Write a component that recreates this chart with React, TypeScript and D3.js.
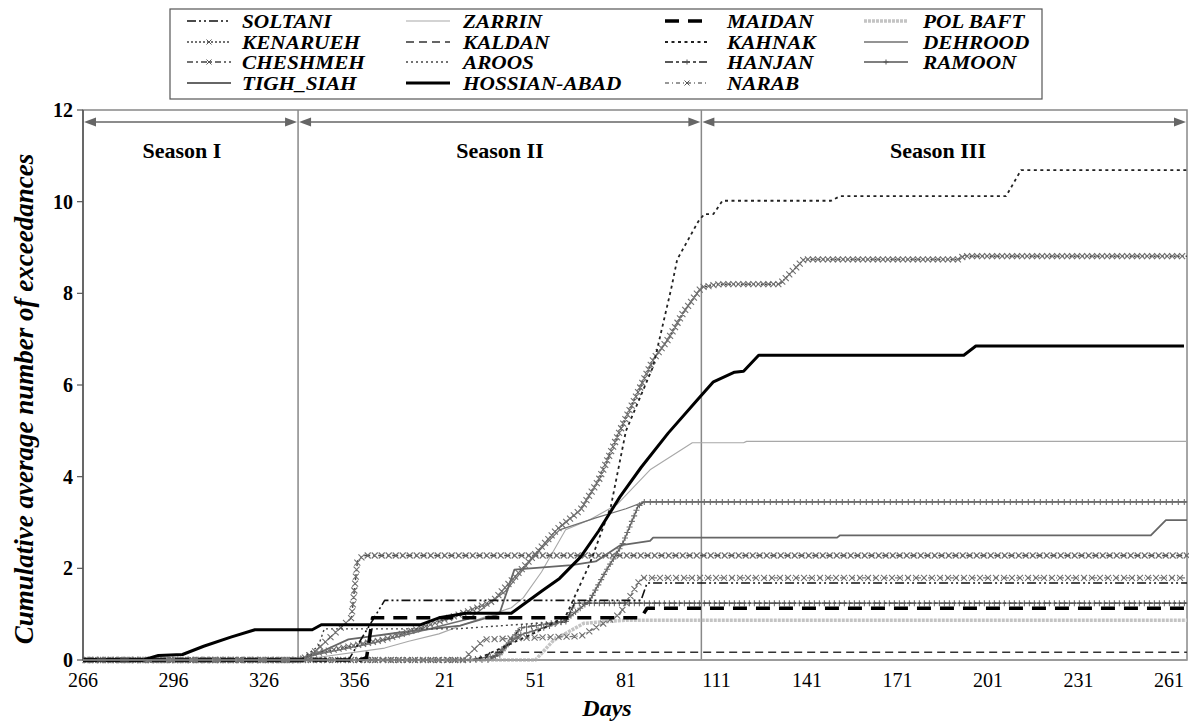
import * as d3 from "d3";

const WIDTH = 1189;
const HEIGHT = 724;
const FONT = "'Liberation Serif', 'Times New Roman', Times, serif";

// x values are days counted from day 266 (so 100 = day 1 of the next year)
const TICK_DAYS = [0, 30, 60, 90, 120, 150, 180, 210, 240, 270, 300, 330, 360];
const TICK_LABELS = ["266", "296", "326", "356", "21", "51", "81", "111", "141", "171", "201", "231", "261"];
const Y_TICKS = [0, 2, 4, 6, 8, 10, 12];

const SEASON_NAMES = ["Season I", "Season II", "Season III"];
const SEASON_BOUNDS = [0, 71.3, 205, 366];

type Pt = [number, number];

const SOLTANI: Pt[] = [[0, 0], [88, 0], [92, 0.43], [100, 1.3], [185, 1.3], [187, 1.68], [366, 1.68]];
const KENARUEH: Pt[] = [[0, 0], [72, 0], [76, 0.13], [100, 0.45], [112, 0.7], [128, 1.07], [136, 1.29], [149, 2.24], [157, 2.84], [165, 3.28], [171, 3.93], [178, 5.0], [189, 6.55], [194, 7.0], [199, 7.58], [205, 8.13], [211, 8.2], [231, 8.2], [239, 8.74], [290, 8.74], [292, 8.81], [366, 8.81]];
const CHESHMEH: Pt[] = [[0, 0], [72, 0], [76, 0.13], [89, 0.92], [91, 2.16], [93, 2.28], [366, 2.28]];
const TIGH_SIAH: Pt[] = [[0, 0], [72, 0], [77, 0.12], [88, 0.45], [105, 0.6], [125, 0.75], [138, 1.0], [143, 1.97], [162, 2.07], [170, 2.15], [178, 2.5], [188, 2.6], [189, 2.67], [250, 2.67], [251, 2.72], [354, 2.72], [359, 3.05], [366, 3.05]];
const ZARRIN: Pt[] = [[0, 0], [72, 0], [77, 0.05], [100, 0.26], [108, 0.41], [118, 0.57], [127, 0.79], [134, 0.96], [142, 1.14], [146, 1.36], [152, 1.92], [160, 2.84], [168, 3.06], [177, 3.39], [188, 4.15], [202, 4.74], [219, 4.74], [220, 4.77], [366, 4.77]];
const KALDAN: Pt[] = [[0, 0], [133, 0], [135, 0.17], [366, 0.17]];
const AROOS: Pt[] = [[0, 0], [72, 0], [78, 0.3], [80, 0.68], [124, 0.68], [150, 0.8], [160, 0.83], [163, 1.24], [366, 1.24]];
const HOSSIAN_ABAD: Pt[] = [[0, 0], [20, 0], [25, 0.1], [33, 0.12], [40, 0.3], [49, 0.5], [57, 0.66], [76, 0.66], [79, 0.77], [112, 0.77], [118, 0.92], [127, 1.02], [142, 1.02], [152, 1.5], [158, 1.78], [165, 2.25], [171, 2.82], [178, 3.56], [185, 4.2], [194, 4.95], [204, 5.7], [209, 6.07], [216, 6.28], [219, 6.3], [224, 6.65], [292, 6.65], [296, 6.85], [365, 6.85]];
const MAIDAN: Pt[] = [[0, 0], [92, 0], [94, 0.05], [96, 0.92], [185, 0.92], [187, 1.13], [366, 1.13]];
const KAHNAK: Pt[] = [[0, 0], [130, 0], [150, 0.6], [160, 0.95], [168, 2.1], [175, 3.35], [180, 5.0], [189, 6.4], [195, 8.1], [197, 8.74], [204, 9.57], [206, 9.73], [209, 9.73], [212, 10.02], [248, 10.02], [251, 10.12], [306, 10.12], [311, 10.69], [366, 10.69]];
const HANJAN: Pt[] = [[0, 0], [128, 0], [138, 0.1], [145, 0.7], [155, 0.8], [160, 0.83], [163, 1.24], [366, 1.24]];
const NARAB: Pt[] = [[0, 0], [126, 0], [133, 0.45], [165, 0.52], [178, 1.0], [185, 1.79], [366, 1.79]];
const POL_BAFT: Pt[] = [[0, 0], [150, 0], [156, 0.43], [166, 0.8], [180, 0.87], [366, 0.87]];
const DEHROOD: Pt[] = [[0, 0], [72, 0], [76, 0.1], [95, 0.35], [110, 0.6], [128, 0.9], [140, 1.5], [150, 2.3], [158, 2.84], [170, 3.1], [180, 3.3], [186, 3.45], [366, 3.45]];
const RAMOON: Pt[] = [[0, 0], [135, 0], [140, 0.3], [145, 0.55], [155, 0.75], [160, 0.87], [168, 1.3], [173, 1.9], [179, 2.55], [184, 3.35], [186, 3.45], [366, 3.45]];

interface Series {
  name: string;
  data: Pt[];
  color: string;
  width: number;
  dash?: string;
  marker?: "x" | "+";
  markerStep?: number;
}

const SERIES: Record<string, Series> = {
  SOLTANI: { name: "SOLTANI", data: SOLTANI, color: "#111", width: 1.6, dash: "9,3,2,3,2,3" },
  KENARUEH: { name: "KENARUEH", data: KENARUEH, color: "#444", width: 1.5, dash: "2,2", marker: "x", markerStep: 5 },
  CHESHMEH: { name: "CHESHMEH", data: CHESHMEH, color: "#444", width: 1.4, dash: "6,3,2,3", marker: "x", markerStep: 7 },
  TIGH_SIAH: { name: "TIGH_SIAH", data: TIGH_SIAH, color: "#666", width: 1.8 },
  ZARRIN: { name: "ZARRIN", data: ZARRIN, color: "#a8a8a8", width: 1.1 },
  KALDAN: { name: "KALDAN", data: KALDAN, color: "#333", width: 1.5, dash: "8,5" },
  AROOS: { name: "AROOS", data: AROOS, color: "#444", width: 1.4, dash: "2,3" },
  HOSSIAN_ABAD: { name: "HOSSIAN-ABAD", data: HOSSIAN_ABAD, color: "#000", width: 3 },
  MAIDAN: { name: "MAIDAN", data: MAIDAN, color: "#000", width: 3.5, dash: "14,9" },
  KAHNAK: { name: "KAHNAK", data: KAHNAK, color: "#222", width: 1.8, dash: "3,3.5" },
  HANJAN: { name: "HANJAN", data: HANJAN, color: "#222", width: 1.5, dash: "8,3,3,3", marker: "+", markerStep: 5 },
  NARAB: { name: "NARAB", data: NARAB, color: "#777", width: 1.3, dash: "4,3,1,3", marker: "x", markerStep: 8 },
  POL_BAFT: { name: "POL BAFT", data: POL_BAFT, color: "#c4c4c4", width: 3.5, dash: "3,1" },
  DEHROOD: { name: "DEHROOD", data: DEHROOD, color: "#707070", width: 1.3 },
  RAMOON: { name: "RAMOON", data: RAMOON, color: "#555", width: 1.3, marker: "+", markerStep: 6 },
};

const DRAW_ORDER = ["POL_BAFT", "ZARRIN", "DEHROOD", "TIGH_SIAH", "NARAB", "CHESHMEH", "KENARUEH", "RAMOON", "HANJAN", "KALDAN", "AROOS", "KAHNAK", "SOLTANI", "MAIDAN", "HOSSIAN_ABAD"];

const LEGEND_COLUMNS = [
  ["SOLTANI", "KENARUEH", "CHESHMEH", "TIGH_SIAH"],
  ["ZARRIN", "KALDAN", "AROOS", "HOSSIAN_ABAD"],
  ["MAIDAN", "KAHNAK", "HANJAN", "NARAB"],
  ["POL_BAFT", "DEHROOD", "RAMOON"],
];
const LEGEND_COL_X = [187, 406, 665, 864];
const LEGEND_TEXT_X = [242, 463, 727, 923];
const LEGEND_ROW_Y = [21, 42, 62, 83];

const x = d3.scaleLinear().domain([0, 366]).range([83, 1187]);
const y = d3.scaleLinear().domain([0, 12]).range([660, 110]);

const line = d3.line<Pt>().x(d => x(d[0])).y(d => y(d[1]));

// evenly spaced positions along a polyline (screen space), used for the markers
function along(pts: Pt[], step: number): Pt[] {
  const out: Pt[] = [];
  let carry = step / 2;
  for (let i = 1; i < pts.length; i++) {
    const [x0, y0] = pts[i - 1];
    const [x1, y1] = pts[i];
    const len = Math.hypot(x1 - x0, y1 - y0);
    let d = carry;
    while (d <= len) {
      const t = d / len;
      out.push([x0 + (x1 - x0) * t, y0 + (y1 - y0) * t]);
      d += step;
    }
    carry = d - len;
  }
  return out;
}

function markerPath(kind: "x" | "+", cx: number, cy: number, r = 3) {
  if (kind === "x") return `M${cx - r},${cy - r}L${cx + r},${cy + r}M${cx - r},${cy + r}L${cx + r},${cy - r}`;
  return `M${cx - r},${cy}L${cx + r},${cy}M${cx},${cy - r}L${cx},${cy + r}`;
}

function SeriesLine({ s }: { s: Series }) {
  const screen: Pt[] = s.data.map(d => [x(d[0]), y(d[1])]);
  const marks = s.marker ? along(screen, s.markerStep ?? 6) : [];
  return (
    <g>
      <path d={line(s.data) ?? ""} fill="none" stroke={s.color} strokeWidth={s.width}
        strokeDasharray={s.dash} strokeLinejoin="round" />
      {s.marker && (
        <path d={marks.map(p => markerPath(s.marker!, p[0], p[1])).join("")}
          fill="none" stroke="#707070" strokeWidth={1.1} />
      )}
    </g>
  );
}

function Arrow({ x1, x2, yy }: { x1: number; x2: number; yy: number }) {
  const hl = 12, hw = 4.5;
  return (
    <g fill="#666" stroke="#666">
      <line x1={x1 + 4} x2={x2 - 4} y1={yy} y2={yy} strokeWidth={1.6} />
      <path d={`M${x1},${yy}L${x1 + hl},${yy - hw}L${x1 + hl},${yy + hw}Z`} stroke="none" />
      <path d={`M${x2},${yy}L${x2 - hl},${yy - hw}L${x2 - hl},${yy + hw}Z`} stroke="none" />
    </g>
  );
}

export default function App() {
  const [x0, x1] = x.range();
  const [y0, y1] = y.range();

  return (
    <svg width={WIDTH} height={HEIGHT} style={{ position: "absolute", left: 0, top: 0, background: "#fff" }}
      fontFamily={FONT}>
      <rect width={WIDTH} height={HEIGHT} fill="#fff" />

      {/* legend */}
      <rect x={170} y={9} width={872} height={90} fill="#fff" stroke="#555" strokeWidth={1.2} />
      {LEGEND_COLUMNS.map((col, ci) => col.map((key, ri) => {
        const s = SERIES[key];
        const ly = LEGEND_ROW_Y[ri];
        const lx = LEGEND_COL_X[ci];
        return (
          <g key={key}>
            <line x1={lx} x2={lx + 44} y1={ly} y2={ly} stroke={s.color} strokeWidth={s.width}
              strokeDasharray={s.dash} />
            {s.marker && <path d={markerPath(s.marker, lx + 22, ly, 2.5)} stroke="#555" strokeWidth={1} fill="none" />}
            {/* Times bold italic, a bit wider than it is tall */}
            <text transform={`translate(${LEGEND_TEXT_X[ci]},${ly + 6.5}) scale(1.12,1)`} fontSize={19}
              fontWeight="bold" fontStyle="italic">
              {s.name}
            </text>
          </g>
        );
      }))}

      {/* plot frame */}
      <rect x={x0} y={y1} width={x1 - x0} height={y0 - y1} fill="none" stroke="#888" strokeWidth={1.5} />

      {/* seasons */}
      {SEASON_BOUNDS.slice(1, -1).map(b => (
        <line key={b} x1={x(b)} x2={x(b)} y1={y1} y2={y0} stroke="#888" strokeWidth={1.5} />
      ))}
      {SEASON_NAMES.map((name, i) => {
        const a = x(SEASON_BOUNDS[i]);
        const b = x(SEASON_BOUNDS[i + 1]);
        return (
          <g key={name}>
            <Arrow x1={a + 1} x2={b - 1} yy={122} />
            <text x={i === 0 ? 182 : i === 1 ? 500 : 938} y={158} textAnchor="middle" fontSize={22}
              fontWeight="bold">{name}</text>
          </g>
        );
      })}

      {/* series */}
      {DRAW_ORDER.map(k => <SeriesLine key={k} s={SERIES[k]} />)}

      {/* y axis */}
      <line x1={x0} x2={x0} y1={y1} y2={y0} stroke="#555" strokeWidth={1.5} />
      {Y_TICKS.map(t => (
        <g key={t}>
          <line x1={x0 - 6} x2={x0} y1={y(t)} y2={y(t)} stroke="#555" strokeWidth={1.2} />
          <text x={x0 - 10} y={y(t) + 7} textAnchor="end" fontSize={20} fontWeight="bold">{t}</text>
        </g>
      ))}
      <text transform={`translate(33,${(y0 + y1) / 2 + 14}) rotate(-90)`} textAnchor="middle" fontSize={27}
        fontWeight="bold" fontStyle="italic">Cumulative average number of exceedances</text>

      {/* x axis */}
      <line x1={x0} x2={x1} y1={y0} y2={y0} stroke="#999" strokeWidth={1.5} />
      {TICK_DAYS.map((d, i) => (
        <text key={d} x={x(d)} y={687} textAnchor="middle" fontSize={20}>{TICK_LABELS[i]}</text>
      ))}
      <text x={607} y={716} textAnchor="middle" fontSize={24} fontWeight="bold" fontStyle="italic">Days</text>
    </svg>
  );
}
